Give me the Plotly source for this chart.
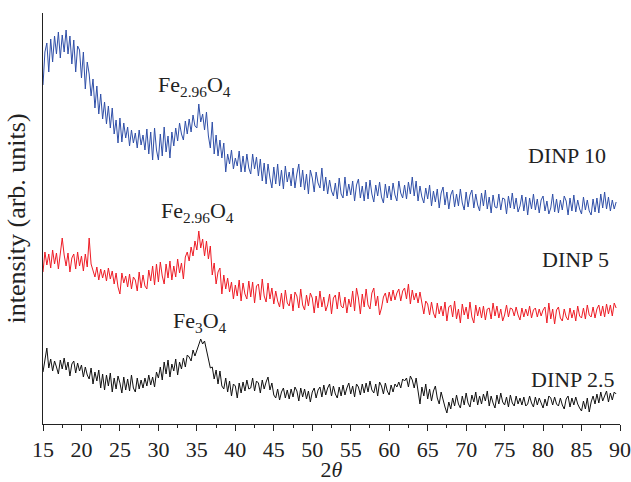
import plotly.graph_objects as go

# Intensity values on a 0.25 degree grid starting at 2theta = 15
two_theta_start = 15.0
two_theta_step = 0.25

dinp10 = [
    339, 372, 381, 352, 385, 362, 388, 370, 392, 366, 389, 372, 394, 370, 388, 360,
    384, 352, 378, 374, 346, 372, 335, 362, 350, 328, 345, 316, 338, 310, 330, 305,
    322, 300, 318, 296, 316, 290, 304, 281, 306, 282, 301, 286, 297, 278, 294, 281,
    291, 276, 294, 279, 289, 274, 295, 270, 292, 264, 296, 274, 264, 290, 268, 297,
    272, 288, 266, 292, 278, 296, 283, 301, 290, 284, 303, 290, 305, 292, 309, 298,
    296, 320, 302, 310, 294, 312, 288, 276, 302, 270, 289, 268, 284, 266, 281, 252,
    270, 260, 274, 255, 266, 258, 273, 252, 268, 252, 270, 256, 250, 270, 255, 267,
    248, 265, 243, 261, 240, 260, 246, 236, 257, 240, 260, 238, 254, 235, 258, 242,
    252, 238, 256, 236, 250, 260, 237, 254, 234, 250, 230, 254, 246, 232, 252, 241,
    236, 256, 233, 247, 230, 244, 233, 228, 241, 225, 246, 230, 226, 247, 228, 240,
    229, 243, 223, 239, 245, 226, 238, 223, 242, 225, 244, 230, 222, 239, 228, 242,
    227, 221, 240, 226, 238, 224, 241, 229, 223, 243, 231, 226, 239, 225, 242, 230,
    247, 228, 243, 223, 238, 227, 221, 236, 225, 239, 218, 233, 222, 235, 216, 231,
    237, 219, 232, 215, 229, 234, 217, 230, 218, 235, 221, 214, 232, 217, 229, 234,
    216, 230, 219, 213, 231, 218, 234, 215, 227, 211, 229, 217, 216, 230, 214, 226,
    225, 210, 228, 216, 231, 215, 226, 212, 218, 229, 213, 227, 209, 226, 215, 230,
    214, 225, 211, 224, 228, 213, 223, 210, 216, 230, 212, 225, 211, 224, 214, 228,
    223, 209, 226, 213, 229, 212, 224, 215, 210, 227, 214, 224, 213, 209, 225, 212,
    226, 211, 230, 216, 232, 215, 227, 213, 224, 215, 222,
]

dinp5 = [
    152, 172, 159, 170, 156, 174, 160, 171, 155, 168, 186, 169, 158, 171, 152, 166,
    170, 155, 172, 158, 168, 153, 170, 157, 186, 160, 152, 147, 157, 144, 155, 146,
    154, 143, 156, 145, 153, 140, 151, 137, 130, 151, 141, 148, 137, 150, 135, 147,
    144, 133, 152, 136, 149, 138, 135, 154, 143, 158, 139, 160, 142, 162, 148, 140,
    160, 146, 163, 144, 158, 147, 165, 151, 161, 145, 167, 172, 163, 177, 168, 183,
    174, 193, 176, 185, 168, 183, 165, 178, 149, 161, 140, 152, 156, 130, 149, 135,
    146, 132, 142, 125, 139, 128, 144, 123, 141, 130, 125, 143, 127, 142, 121, 138,
    140, 124, 145, 128, 122, 141, 125, 136, 120, 133, 123, 117, 131, 115, 134, 121,
    118, 130, 113, 132, 128, 116, 135, 119, 114, 129, 118, 131, 126, 111, 128, 116,
    133, 117, 127, 113, 119, 130, 110, 126, 129, 115, 132, 118, 116, 127, 111, 125,
    117, 133, 113, 136, 126, 110, 130, 117, 135, 119, 115, 131, 136, 118, 128, 109,
    116, 127, 131, 121, 132, 123, 134, 124, 131, 135, 123, 133, 136, 125, 140, 120,
    134, 124, 131, 121, 132, 122, 110, 123, 120, 109, 122, 111, 106, 121, 110, 118,
    108, 122, 103, 117, 119, 107, 123, 105, 115, 101, 120, 109, 117, 105, 122, 107,
    101, 119, 108, 117, 106, 118, 104, 115, 116, 105, 121, 108, 118, 106, 115, 103,
    109, 119, 107, 116, 115, 108, 117, 109, 104, 116, 107, 115, 108, 118, 106, 114,
    116, 107, 115, 108, 114, 117, 101, 121, 105, 115, 100, 114, 117, 106, 103, 115,
    107, 104, 116, 106, 114, 103, 118, 108, 106, 116, 105, 119, 109, 107, 117, 106,
    115, 119, 108, 118, 107, 120, 110, 119, 108, 121, 116,
]

dinp25 = [
    52, 62, 76, 56, 65, 53, 63, 57, 50, 64, 55, 66, 54, 62, 48, 60,
    63, 51, 61, 53, 59, 47, 57, 49, 45, 56, 40, 52, 43, 54, 36, 50,
    34, 49, 38, 51, 32, 46, 35, 48, 41, 31, 47, 34, 45, 33, 49, 36,
    32, 46, 35, 44, 36, 46, 38, 49, 39, 47, 37, 52, 46, 57, 44, 62,
    50, 64, 47, 60, 53, 65, 49, 62, 55, 66, 57, 69, 67, 63, 74, 68,
    73, 79, 85, 80, 83, 74, 63, 56, 57, 45, 54, 40, 53, 38, 35, 46,
    32, 43, 28, 40, 38, 26, 41, 31, 42, 33, 44, 35, 36, 46, 33, 43,
    41, 31, 44, 35, 42, 47, 34, 41, 29, 26, 35, 24, 32, 36, 26, 34,
    25, 35, 27, 37, 33, 23, 36, 27, 35, 25, 33, 22, 32, 36, 26, 34,
    37, 27, 39, 29, 36, 40, 28, 38, 30, 26, 37, 28, 39, 29, 36, 41,
    30, 38, 27, 40, 37, 29, 40, 31, 41, 32, 43, 34, 31, 40, 28, 42,
    38, 30, 41, 33, 29, 39, 32, 40, 37, 42, 36, 45, 43, 46, 37, 48,
    44, 36, 46, 34, 20, 37, 28, 40, 25, 35, 23, 33, 38, 26, 20, 32,
    23, 17, 11, 22, 15, 26, 18, 29, 20, 16, 28, 19, 31, 21, 17, 29,
    22, 32, 19, 28, 20, 30, 23, 33, 18, 28, 21, 16, 29, 20, 31, 22,
    19, 27, 17, 29, 21, 18, 28, 20, 26, 19, 27, 18, 20, 28, 21, 17,
    27, 19, 26, 20, 16, 25, 18, 28, 26, 19, 27, 20, 18, 26, 19, 15,
    25, 28, 17, 26, 19, 27, 20, 16, 13, 23, 15, 26, 12, 22, 28, 20,
    30, 21, 32, 23, 29, 33, 22, 31, 24, 32, 30,
]

series_names = ["DINP 10", "DINP 5", "DINP 2.5"]
series_colors = ["#2f4fa8", "#ee1c25", "#111111"]
tick_values = [15, 20, 25, 30, 35, 40, 45, 50, 55, 60, 65, 70, 75, 80, 85, 90]

def grid(vals):
    return [two_theta_start + two_theta_step * i for i in range(len(vals))]

FONT = "Liberation Serif, Times New Roman, serif"
TXT = "#222222"

fig = go.Figure()
for vals, name, col in zip([dinp10, dinp5, dinp25], series_names, series_colors):
    fig.add_trace(go.Scatter(x=grid(vals), y=vals, mode="lines", name=name,
                             line=dict(color=col, width=1), showlegend=False))

ann = [
    dict(x=34.7, y=338, text="Fe<sub>2.96</sub>O<sub>4</sub>", xanchor="center", yanchor="middle"),
    dict(x=35.1, y=212, text="Fe<sub>2.96</sub>O<sub>4</sub>", xanchor="center", yanchor="middle"),
    dict(x=35.4, y=102, text="Fe<sub>3</sub>O<sub>4</sub>", xanchor="center", yanchor="middle"),
    dict(x=88.5, y=269, text="DINP 10", xanchor="right", yanchor="middle"),
    dict(x=88.8, y=165, text="DINP 5", xanchor="right", yanchor="middle"),
    dict(x=89.6, y=45, text="DINP 2.5", xanchor="right", yanchor="middle"),
]
for a in ann:
    fig.add_annotation(**a, showarrow=False, font=dict(family=FONT, size=22, color=TXT))

fig.update_layout(
    width=631, height=482,
    margin=dict(l=43, r=11, t=13, b=58),
    plot_bgcolor="white", paper_bgcolor="white",
    font=dict(family=FONT, size=22, color=TXT),
)
fig.update_xaxes(
    range=[15, 90], tickvals=tick_values, ticks="outside", ticklen=6, tickwidth=1,
    tickcolor=TXT, showline=True, linecolor=TXT, linewidth=1, showgrid=False,
    zeroline=False, tickfont=dict(family=FONT, size=22, color=TXT), automargin=False,
    ticklabeloverflow="allow",
    minor=dict(dtick=2.5, tick0=15, ticks="outside", ticklen=3, tickcolor=TXT, showgrid=False),
    title=dict(text="2<i>θ</i>", font=dict(family=FONT, size=22, color=TXT), standoff=1),
)
fig.update_yaxes(
    range=[0, 411], showline=True, linecolor=TXT, linewidth=1, showgrid=False,
    zeroline=False, showticklabels=False, ticks="", automargin=False,
    title=dict(text="intensity (arb. units)", font=dict(family=FONT, size=26, color=TXT), standoff=8),
)

fig.write_html("out.html", config={"displayModeBar": False},
               post_script="document.body.style.margin='0px';")
